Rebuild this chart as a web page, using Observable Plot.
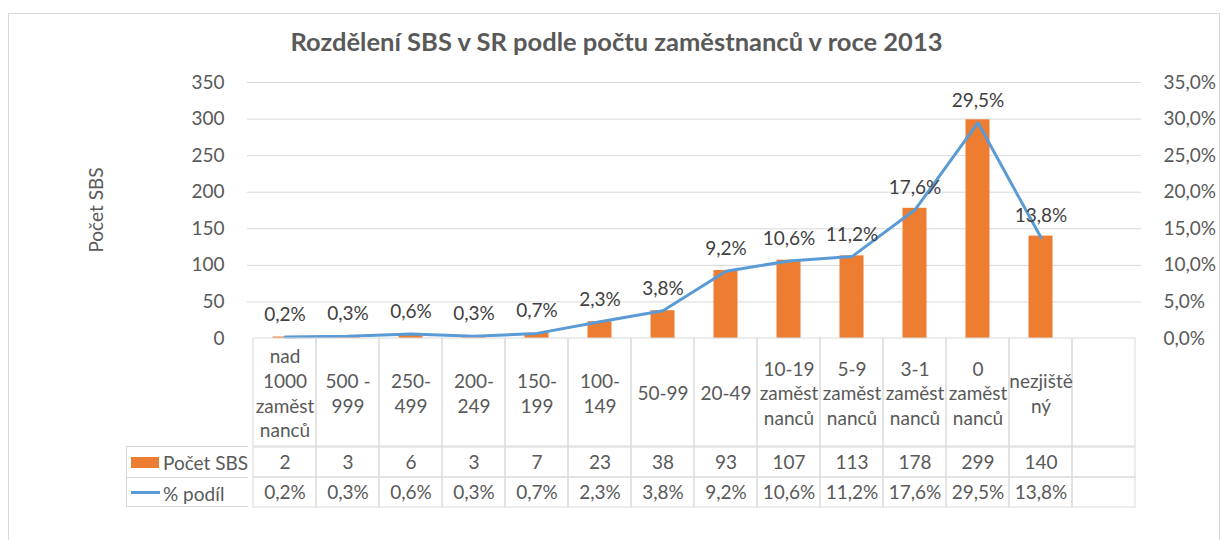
<!DOCTYPE html>
<html>
<head>
<meta charset="utf-8">
<script src="https://cdn.jsdelivr.net/npm/d3@7"></script>
<script src="https://cdn.jsdelivr.net/npm/@observablehq/plot@0.6"></script>
<style>
  html, body { margin: 0; padding: 0; background: #fff; }
  #chart { position: relative; width: 1224px; height: 540px; overflow: hidden; background: #fff;
           font-family: Lato, "Open Sans", sans-serif; color: #595959; }
  #frame { position: absolute; left: 8px; top: 13px; width: 1212px; height: 600px; border: 1px solid #d9d9d9; box-sizing: border-box; }
  #title { position: absolute; left: 0; width: 1233px; top: 26px; text-align: center; font-weight: bold; font-size: 25.5px; color: #595959; }
  #ytitle { position: absolute; left: 95px; top: 210px; transform: translate(-50%, -50%) rotate(-90deg); font-size: 19px; white-space: nowrap; }
  .plot { position: absolute; left: 0; overflow: visible; }
  #legend { position: absolute; left: 126px; top: 446px; width: 122px; height: 61px; box-sizing: border-box;
            border: 1px solid #d9d9d9; border-right: none; font-size: 19px; }
  .lrow { position: absolute; left: 0; width: 121px; height: 30px; }
  .ltext { position: absolute; left: 36px; top: 50%; transform: translateY(-50%); white-space: nowrap; }
</style>
</head>
<body>
<div id="chart">
  <div id="frame"></div>
  <div id="title"></div>
  <div id="ytitle"></div>
</div>
<script>
// ---- data ----
const chartTitle = "Rozdělení SBS v SR podle počtu zaměstnanců v roce 2013";
const yAxisTitle = "Počet SBS";
const seriesNames = ["Počet SBS", "% podíl"];
const categories = [
  "nad\n1000\nzaměst\nnanců",
  "500 -\n999",
  "250-\n499",
  "200-\n249",
  "150-\n199",
  "100-\n149",
  "50-99",
  "20-49",
  "10-19\nzaměst\nnanců",
  "5-9\nzaměst\nnanců",
  "3-1\nzaměst\nnanců",
  "0\nzaměst\nnanců",
  "nezjiště\nný",
  " "   // empty trailing column of the source table
];
const counts = [2, 3, 6, 3, 7, 23, 38, 93, 107, 113, 178, 299, 140];
const shares = [0.2, 0.3, 0.6, 0.3, 0.7, 2.3, 3.8, 9.2, 10.6, 11.2, 17.6, 29.5, 13.8];
const countTicks = [0, 50, 100, 150, 200, 250, 300, 350];
const shareTicks = [0, 5, 10, 15, 20, 25, 30, 35];

// ---- helpers ----
const fmtPct = (v, digits) => v.toFixed(digits).replace(".", ",") + "%";
const rows = counts.map((c, i) => ({cat: categories[i], count: c, share: shares[i]}));
const tableRows = [];
categories.forEach((cat, i) => {
  tableRows.push({cat, series: seriesNames[0], label: i < counts.length ? String(counts[i]) : ""});
  tableRows.push({cat, series: seriesNames[1], label: i < shares.length ? fmtPct(shares[i], 1) : ""});
});

const ORANGE = "#ED7D31", BLUE = "#5B9BD5", GRID = "#d9d9d9";
const FONT = "Lato, 'Open Sans', sans-serif";
const W = 1224, ML = 247, MR = 83;
const xScale = {domain: categories, padding: 0, axis: null};
const baseStyle = {fontFamily: FONT, fontSize: "19px", color: "#595959", background: "transparent", overflow: "visible"};

document.getElementById("title").textContent = chartTitle;
document.getElementById("ytitle").textContent = yAxisTitle;
const chart = document.getElementById("chart");

// ---- main chart ----
const main = Plot.plot({
  width: W, height: 340, marginTop: 82, marginBottom: 2, marginLeft: ML, marginRight: MR,
  style: baseStyle,
  x: xScale,
  y: {domain: [0, 350], axis: null},
  marks: [
    Plot.ruleY(countTicks.filter(d => d > 0), {stroke: GRID, strokeWidth: 1}),
    Plot.axisY(countTicks, {anchor: "left", tickSize: 0, tickPadding: 23, label: null, fontSize: 19}),
    Plot.axisY(shareTicks.map(d => d * 10), {anchor: "right", tickSize: 0, tickPadding: 22, label: null, fontSize: 19,
      tickFormat: d => fmtPct(d / 10, 1)}),
    Plot.barY(rows, {x: "cat", y: "count", fill: ORANGE, insetLeft: 19.5, insetRight: 19.5}),
    Plot.line(rows, {x: "cat", y: d => d.share * 10, stroke: BLUE, strokeWidth: 3}),
    Plot.text(rows, {x: "cat", y: d => d.share * 10, text: d => fmtPct(d.share, 1), dy: -22, fontSize: 19, fill: "#404040"})
  ]
});
main.classList.add("plot");
main.style.top = "0px";
chart.appendChild(main);

// ---- table header (category labels) ----
const header = Plot.plot({
  width: W, height: 108, marginTop: 0, marginBottom: 0, marginLeft: ML, marginRight: MR,
  style: baseStyle,
  x: xScale,
  marks: [
    Plot.cell(categories, {x: d => d, stroke: GRID, fill: "none", inset: 0}),
    Plot.text(categories, {x: d => d, text: d => d, frameAnchor: "middle", lineHeight: 1.3, fontSize: 19, fill: "#595959"})
  ]
});
header.classList.add("plot");
header.style.top = "338px";
chart.appendChild(header);

// ---- table data rows ----
const body = Plot.plot({
  width: W, height: 61, marginTop: 0, marginBottom: 0, marginLeft: ML, marginRight: MR,
  style: baseStyle,
  x: xScale,
  y: {domain: seriesNames, padding: 0, axis: null},
  marks: [
    Plot.cell(tableRows, {x: "cat", y: "series", stroke: GRID, fill: "none", inset: 0}),
    Plot.text(tableRows, {x: "cat", y: "series", text: "label", fontSize: 19, fill: "#595959"})
  ]
});
body.classList.add("plot");
body.style.top = "446px";
chart.appendChild(body);

// ---- legend cells ----
const legend = document.createElement("div");
legend.id = "legend";
legend.innerHTML = `
  <div class="lrow" style="top:0;">
    <div style="position:absolute;left:4px;top:10px;width:28px;height:11px;background:${ORANGE}"></div>
    <div class="ltext">${seriesNames[0]}</div>
  </div>
  <div class="lrow" style="top:30px;border-top:1px solid ${GRID};">
    <div style="position:absolute;left:4px;top:13px;width:29px;height:3px;background:${BLUE}"></div>
    <div class="ltext">${seriesNames[1]}</div>
  </div>`;
chart.appendChild(legend);
</script>
</body>
</html>
